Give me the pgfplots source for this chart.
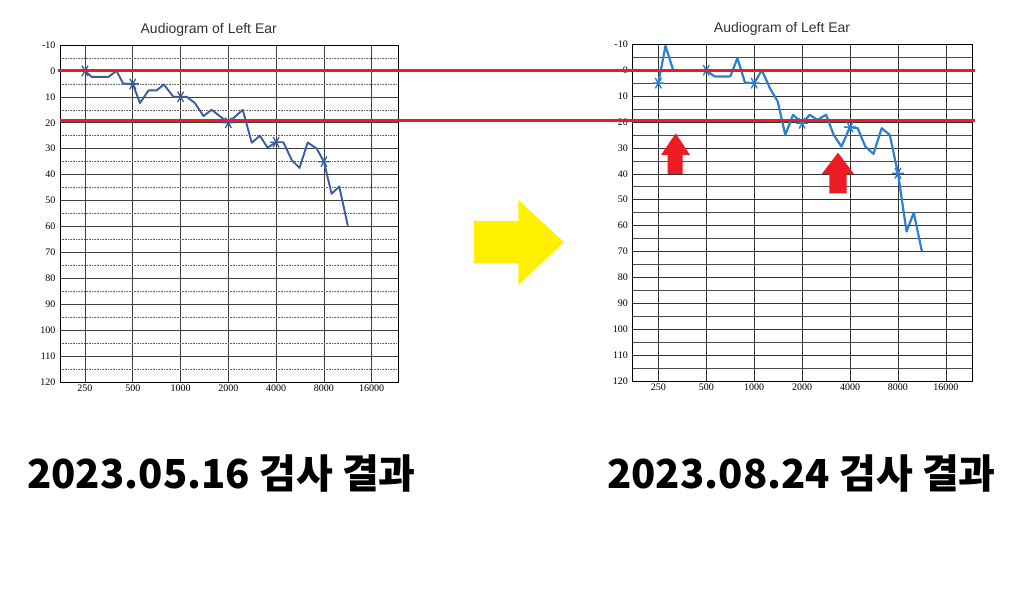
\documentclass[border=0pt]{standalone}
\usepackage{fontspec}
\setmainfont{Liberation Serif}
\newfontfamily\arialf{Liberation Sans}
\newfontfamily\krfont{Noto Sans CJK KR}
\usepackage{pgfplots}
\usepackage{pgfplotstable}
\pgfplotsset{compat=1.18}
\definecolor{lineA}{RGB}{60,92,160}
\definecolor{lineB}{RGB}{45,128,205}
\definecolor{redl}{RGB}{237,28,36}
\definecolor{yel}{RGB}{255,240,0}

\pgfplotstableread{
t db
0 0
0.14 2.3
0.49 2.3
0.66 0
0.80 4.9
1.0 5
1.15 12.4
1.33 7.5
1.50 7.5
1.65 5.2
1.85 10
2.0 10
2.13 10
2.3 12.4
2.48 17.4
2.65 15
3.0 20
3.3 15
3.49 27.7
3.66 25
3.82 29.6
4.0 27.5
4.15 27.5
4.33 34.5
4.49 37.4
4.66 27.6
4.85 30
5.0 35
5.16 47.4
5.32 44.6
5.5 59.7
}\leftdata
\pgfplotstableread{
t db
0 0
1 5
2 10
3 20
4 27.5
5 35
}\leftmarks
\pgfplotstableread{
t db
0 5
0.15 -9.4
0.31 0
}\rightdataA
\pgfplotstableread{
t db
1.0 0
1.17 2.4
1.50 2.4
1.65 -4.6
1.81 4.8
2.0 5
2.16 0
2.33 7
2.49 12
2.65 25
2.81 17.2
3.0 20.5
3.16 17.2
3.32 19.2
3.5 17.2
3.66 25
3.82 29.5
4.0 22
4.16 22.4
4.32 29.5
4.49 32.3
4.66 22.4
4.83 25
5.0 39.8
5.18 62.3
5.33 55
5.5 70
}\rightdataB
\pgfplotstableread{
t db
0 5
1 0
2 5
3 20.5
4 22
5 39.8
}\rightmarks

\pgfplotsset{audio/.style={
  scale only axis,
  y dir=reverse, ymin=-10, ymax=120,
  xtick={0,...,6},
  xticklabels={250,500,1000,2000,4000,8000,16000},
  ytick={-10,0,...,120},
  minor ytick={-5,5,...,115},
  grid=both,
  major tick length=0pt, minor tick length=0pt,
  tick label style={font=\fontsize{10}{10}\selectfont},
  /pgf/number format/assume math mode=true,
  axis line style={black, line width=0.8pt},
  title style={font=\arialf\fontsize{14}{14}\selectfont, text=black!80, at={(0.44,1)}, anchor=south, yshift=-1pt},
  title={Audiogram of Left Ear},
  xticklabel style={yshift=1pt},
  yticklabel style={xshift=-1pt},
}}

\begin{document}
\begin{tikzpicture}[x=1pt,y=1pt]
\fill[white] (0,0) rectangle (1017,600);
\useasboundingbox (0,0) rectangle (1017,600);

\begin{axis}[audio, at={(60pt,218pt)}, anchor=south west, width=338pt, height=337pt,
  xmin=-0.523, xmax=6.55,
  major grid style={black!75, line width=0.6pt},
  minor grid style={black!60, line width=0.6pt, densely dotted}]
\addplot[lineA, line width=1.9pt, line join=round] table[x=t,y=db] {\leftdata};
\addplot[lineA, only marks, mark=asterisk, mark size=6pt, mark options={line width=1.3pt, rotate=90}] table[x=t,y=db] {\leftmarks};
\end{axis}

\begin{axis}[audio, at={(632.3pt,219pt)}, anchor=south west, width=340.4pt, height=336.7pt,
  xmin=-0.543, xmax=6.56,
  major grid style={black!80, line width=0.6pt},
  minor grid style={black!70, line width=0.6pt}]
\addplot[lineB, line width=2.2pt, line join=round] table[x=t,y=db] {\rightdataA};
\addplot[lineB, line width=2.2pt, line join=round] table[x=t,y=db] {\rightdataB};
\addplot[lineB, only marks, mark=asterisk, mark size=6pt, mark options={line width=1.4pt, rotate=90}] table[x=t,y=db] {\rightmarks};
\end{axis}

% red reference lines
\draw[redl, line width=3pt] (58,529) -- (975,529);
\draw[redl, line width=3pt] (60,479) -- (975,479);

% yellow arrow
\fill[yel] (474,379) -- (518.3,379) -- (518.3,400) -- (564,357.7) -- (518.3,315) -- (518.3,336.7) -- (474,336.7) -- cycle;

% red up arrows
\fill[redl] (667.7,426) -- (667.7,445) -- (661,445) -- (675.7,466.7) -- (690,445) -- (682.7,445) -- (682.7,426) -- cycle;
\fill[redl] (829.3,406.7) -- (829.3,426) -- (821.7,426) -- (838,447.3) -- (854,426) -- (846.7,426) -- (846.7,406.7) -- cycle;

% captions
\node[anchor=base west, inner sep=0pt, font=\krfont\bfseries\fontsize{40}{40}\selectfont] at (27,112) {2023.05.16 검사 결과};
\node[anchor=base west, inner sep=0pt, font=\krfont\bfseries\fontsize{40}{40}\selectfont] at (607,112) {2023.08.24 검사 결과};
\end{tikzpicture}
\end{document}
